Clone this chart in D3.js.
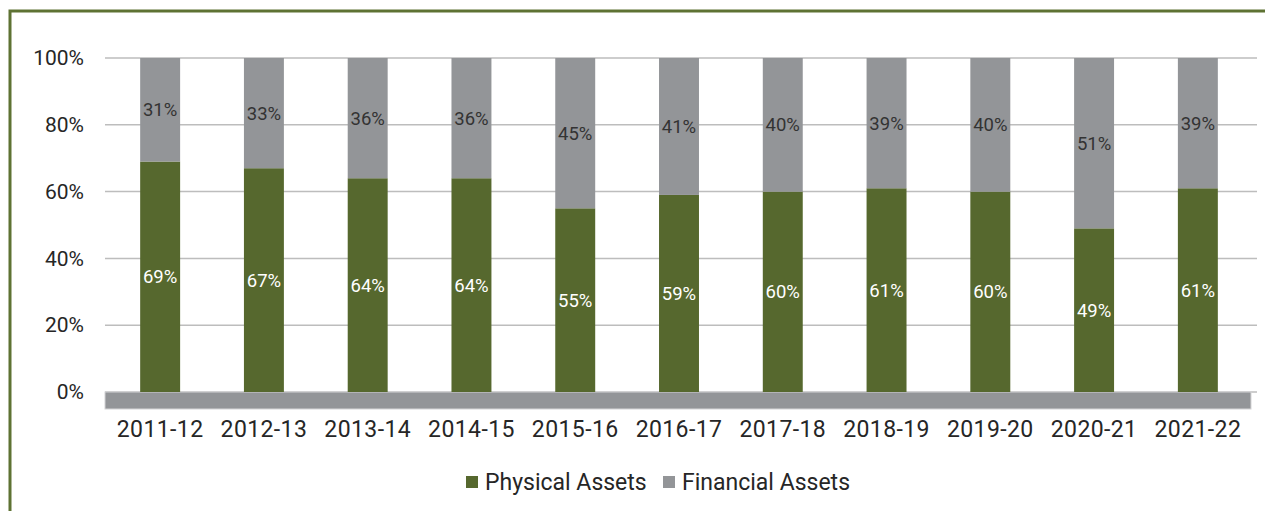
<!DOCTYPE html>
<html>
<head>
<meta charset="utf-8">
<script src="https://cdn.jsdelivr.net/npm/d3@7"></script>
<style>
  body { margin: 0; background: #fff; }
  svg { display: block; font-family: Roboto, "Noto Sans", sans-serif; }
</style>
</head>
<body>
<svg id="chart"></svg>
<script>
const years = ['2011-12', '2012-13', '2013-14', '2014-15', '2015-16', '2016-17',
               '2017-18', '2018-19', '2019-20', '2020-21', '2021-22'];
const physical = [69, 67, 64, 64, 55, 59, 60, 61, 60, 49, 61];
const financial = [31, 33, 36, 36, 45, 41, 40, 39, 40, 51, 39];
const yTicks = [0, 20, 40, 60, 80, 100];
const seriesNames = ['Physical Assets', 'Financial Assets'];

const width = 1265, height = 511;
const margin = {top: 58, right: 15, bottom: 119, left: 108};
const innerW = 1250 - margin.left;
const innerH = height - margin.top - margin.bottom;
const green = '#56682e', grey = '#939598', ink = '#262626';

const svg = d3.select('#chart').attr('width', width).attr('height', height);

// outer frame
svg.append('path')
    .attr('d', `M10,${height} L10,11 L${width + 5},11`)
    .attr('fill', 'none')
    .attr('stroke', '#5e7233')
    .attr('stroke-width', 3);

const chart = svg.append('g')
    .attr('transform', `translate(${margin.left}, ${margin.top})`);

const x = d3.scaleBand().domain(years).range([0, innerW]).paddingInner(0.615).paddingOuter(0.31);
const y = d3.scaleLinear().domain([0, 100]).range([innerH, 0]);

// gridlines
chart.append('g')
    .selectAll('line')
    .data(yTicks)
    .join('line')
    .attr('x1', -3).attr('x2', innerW + 7)
    .attr('y1', d => y(d)).attr('y2', d => y(d))
    .attr('stroke', '#bdbdbd')
    .attr('stroke-width', 1.5);

// floor
chart.append('rect')
    .attr('x', -3).attr('y', y(0))
    .attr('width', innerW + 4).attr('height', 17)
    .attr('fill', grey)
    .attr('stroke', '#d4d4d6')
    .attr('stroke-width', 1);

// y axis labels
const yaxis = d3.axisLeft(y).tickValues(yTicks).tickFormat(d => d + '%').tickSize(0).tickPadding(24);
chart.append('g').call(yaxis)
    .call(g => g.select('.domain').remove())
    .selectAll('text')
    .attr('font-size', 21).attr('fill', ink).attr('font-family', 'Roboto');

// bars
const rows = years.map((yr, i) => ({year: yr, p: physical[i], f: financial[i]}));
const bars = chart.append('g').selectAll('g').data(rows).join('g');

bars.append('rect')
    .attr('x', d => x(d.year)).attr('width', x.bandwidth())
    .attr('y', d => y(d.p)).attr('height', d => y(0) - y(d.p))
    .attr('fill', green);

bars.append('rect')
    .attr('x', d => x(d.year)).attr('width', x.bandwidth())
    .attr('y', d => y(d.p + d.f)).attr('height', d => y(d.p) - y(d.p + d.f))
    .attr('fill', grey);

bars.append('text')
    .attr('x', d => x(d.year) + x.bandwidth() / 2)
    .attr('y', d => y(d.p / 2))
    .attr('dy', '0.35em')
    .attr('text-anchor', 'middle')
    .attr('font-size', 18.5)
    .attr('fill', '#fff')
    .text(d => d.p + '%');

bars.append('text')
    .attr('x', d => x(d.year) + x.bandwidth() / 2)
    .attr('y', d => y(d.p + d.f / 2))
    .attr('dy', '0.35em')
    .attr('text-anchor', 'middle')
    .attr('font-size', 18.5)
    .attr('fill', '#333')
    .text(d => d.f + '%');

// x axis labels
const xaxis = d3.axisBottom(x).tickSize(0).tickPadding(29);
chart.append('g').attr('transform', `translate(0, ${innerH})`).call(xaxis)
    .call(g => g.select('.domain').remove())
    .selectAll('text')
    .attr('font-size', 23).attr('fill', ink).attr('font-family', 'Roboto')
    .attr('letter-spacing', '0.4px');

// legend
const legend = svg.append('g').attr('transform', 'translate(0, 482)');
const items = [{name: seriesNames[0], color: green, x: 466}, {name: seriesNames[1], color: grey, x: 663}];
const li = legend.selectAll('g').data(items).join('g')
    .attr('transform', d => `translate(${d.x}, 0)`);
li.append('rect').attr('x', 0).attr('y', -6).attr('width', 12).attr('height', 12).attr('fill', d => d.color);
li.append('text').attr('x', 19).attr('dy', '0.35em')
    .attr('font-size', 23).attr('fill', ink)
    .text(d => d.name);
</script>
</body>
</html>
